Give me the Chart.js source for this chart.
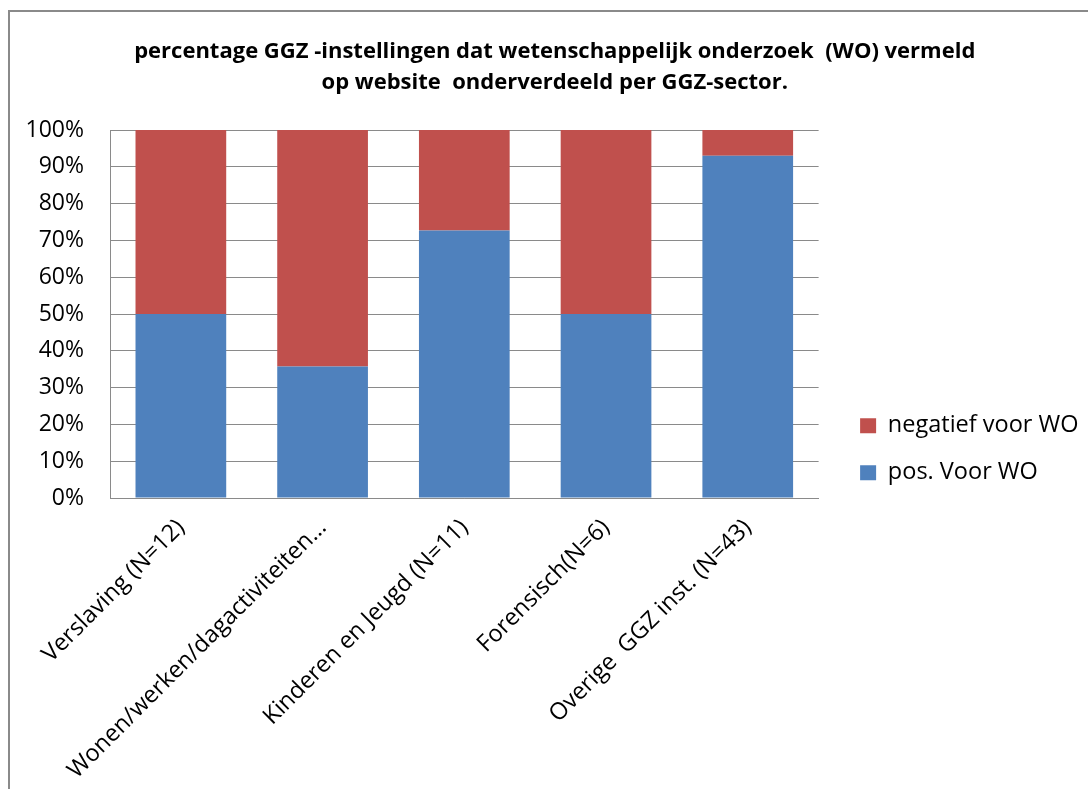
<!DOCTYPE html>
<html>
<head>
<meta charset="utf-8">
<script src="https://cdn.jsdelivr.net/npm/chart.js@4"></script>
<style>
  body { margin: 0; background: #fff; }
  #wrap { position: relative; width: 1088px; height: 789px; }
</style>
</head>
<body>
<div id="wrap"><canvas id="ggzChart" width="1088" height="789"></canvas></div>
<script>
const categories = [
    'Verslaving (N=12)',
    'Wonen/werken/dagactiviteiten…',
    'Kinderen en Jeugd (N=11)',
    'Forensisch(N=6)',
    'Overige  GGZ inst. (N=43)'
];
const posVoorWO = [50, 35.7, 72.7, 50, 93];
const negatiefVoorWO = [50, 64.3, 27.3, 50, 7];
const titleLines = [
    'percentage GGZ -instellingen dat wetenschappelijk onderzoek  (WO) vermeld',
    'op website  onderverdeeld per GGZ-sector.'
];

const FONT = '"Open Sans", Lato, sans-serif';
const GRID = '#8a8a8a';

// grey frame along the top and left edge
const framePlugin = {
    id: 'frame',
    beforeDraw(chart) {
        const c = chart.ctx;
        c.save();
        c.strokeStyle = GRID;
        c.lineWidth = 2;
        c.beginPath();
        c.moveTo(9, chart.height);
        c.lineTo(9, 11);
        c.lineTo(chart.width, 11);
        c.stroke();
        c.restore();
    }
};

// nudge the legend a little, Excel puts it lower than chart.js does
const legendNudge = {
    id: 'legendNudge',
    afterLayout(chart) {
        const lg = chart.legend;
        if (!lg) return;
        lg.left += 5; lg.right += 5;
        lg.top += 10; lg.bottom += 10;
    }
};

const ctx = document.getElementById('ggzChart').getContext('2d');
new Chart(ctx, {
    type: 'bar',
    data: {
        labels: categories,
        datasets: [{
            label: 'pos. Voor WO',
            data: posVoorWO,
            backgroundColor: '#4F81BD',
            barPercentage: 0.64,
            categoryPercentage: 1
        }, {
            label: 'negatief voor WO',
            data: negatiefVoorWO,
            backgroundColor: '#C0504D',
            barPercentage: 0.64,
            categoryPercentage: 1
        }]
    },
    options: {
        responsive: false,
        animation: false,
        layout: { padding: { left: 26, right: 4.5, top: 0, bottom: 8 } },
        scales: {
            x: {
                stacked: true,
                grid: { display: false },
                border: { display: true, color: GRID, width: 1 },
                ticks: {
                    color: '#000',
                    font: { family: FONT, size: 23.5 },
                    maxRotation: 45,
                    minRotation: 45,
                    autoSkip: false,
                    padding: 8
                },
                afterFit: s => {
                    s.height = 283;
                    s.paddingLeft = 0;
                    s.paddingRight = 0;
                }
            },
            y: {
                stacked: true,
                min: 0,
                max: 100,
                grid: { color: GRID, lineWidth: 1, drawTicks: false },
                border: { display: true, color: GRID, width: 1 },
                ticks: {
                    stepSize: 10,
                    color: '#000',
                    padding: 26,
                    font: { family: FONT, size: 23 },
                    callback: v => v + '%'
                },
                afterFit: s => { s.width = 84; }
            },
            gap: {
                position: 'right',
                display: true,
                grid: { display: false },
                border: { display: false },
                ticks: { display: false },
                afterFit: s => { s.width = 13; }
            }
        },
        plugins: {
            title: {
                display: true,
                text: titleLines,
                color: '#000',
                font: { family: FONT, size: 22, weight: 'bold', lineHeight: '31px' },
                padding: { top: 36, bottom: 32 }
            },
            legend: {
                position: 'right',
                align: 'end',
                fullSize: false,
                reverse: true,
                maxWidth: 320,
                labels: {
                    color: '#000',
                    font: { family: FONT, size: 23.5, lineHeight: 1 },
                    boxWidth: 16,
                    boxHeight: 15,
                    padding: 23.5
                }
            },
            tooltip: { enabled: false }
        }
    },
    plugins: [framePlugin, legendNudge]
});
</script>
</body>
</html>
